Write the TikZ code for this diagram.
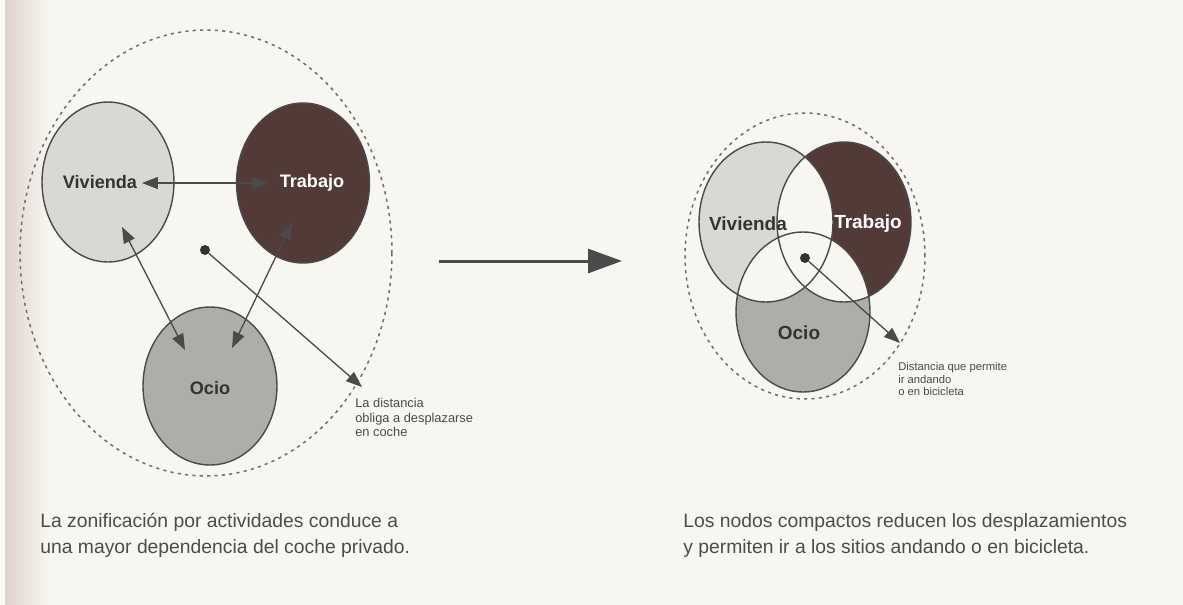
\documentclass[tikz,border=0pt]{standalone}
\usepackage{fontspec}
\setmainfont{Liberation Sans}
\usepackage{xcolor}
\usepackage{tikz}
\usetikzlibrary{shapes.geometric}
\usetikzlibrary{arrows.meta}
\usetikzlibrary{positioning}

\definecolor{paper}{HTML}{F8F6F1}
\definecolor{shadow}{HTML}{DDD4CC}
\definecolor{vivfill}{HTML}{D8D8D5}
\definecolor{trabfill}{HTML}{523B37}
\definecolor{ociofill}{HTML}{AEADAA}
\definecolor{inkgrey}{HTML}{4A4A4A}
\definecolor{dashgrey}{HTML}{6E6E6E}

\begin{document}
\begin{tikzpicture}[
  x=0.02cm, y=-0.02cm,
  >={Triangle[length=0.32cm,width=0.24cm]},
  line join=round
]
\tikzset{
    bubble/.style = {ellipse, draw=inkgrey, line width=0.8pt, inner sep=0pt,
                     minimum width=2.64cm, minimum height=3.2cm},
    tagL/.style = {font=\fontsize{10.3}{12}\selectfont\bfseries, text=black!80},
    tagR/.style = {font=\fontsize{10.8}{12}\selectfont\bfseries, text=black!80},
    link/.style = {draw=inkgrey, line width=0.75pt},
    hub/.style = {circle, fill=black!80, inner sep=0pt, minimum size=0.2cm},
    zone/.style = {draw=dashgrey, line width=0.85pt, dash pattern=on 1.8pt off 2.4pt},
    note/.style = {align=left, inner sep=0pt, text=inkgrey},
    caption/.style = {align=left, inner sep=0pt, text=black!70,
                      font=\fontsize{11}{14.7}\selectfont}
}
% paper and the book gutter
\fill[paper] (0,0) rectangle (1183,605);
\fill[white!40!paper] (0,0) rectangle (5,605);
\shade[left color=shadow, right color=paper] (5,0) rectangle (48,605);

% zonificacion
\draw[zone] (206,253) ellipse [x radius=3.72cm, y radius=4.46cm];
\node[bubble, fill=vivfill, label={[tagL, xshift=-0.16cm]center:Vivienda}] (viv) at (108,182) {};
\node[bubble, fill=trabfill, minimum width=2.66cm,
      label={[tagL, text=white, xshift=0.18cm]center:Trabajo}] (trab) at (303,183) {};
\node[bubble, fill=ociofill, minimum width=2.68cm, minimum height=3.16cm,
      label={[tagL, yshift=-0.04cm]center:Ocio}] (ocio) at (210,386) {};
\draw[link,<->] ([shift={(34,1)}]viv.center) -- ([shift={(-35,0)}]trab.center);
\draw[link,<->] ([shift={(14,45)}]viv.center) -- ([shift={(-25,-36)}]ocio.center);
\draw[link,<->] ([shift={(-11,40)}]trab.center) -- ([shift={(22,-38)}]ocio.center);
\node[hub] (hubL) at (205,250) {};
\coordinate (reachL) at (362,387);
\draw[link,->] (hubL) -- (reachL);
\node[note, anchor=north west, font=\fontsize{7.3}{8.2}\selectfont] (noteL) at (355,398)
  {La distancia\\obliga a desplazarse\\en coche};

% paso de un modelo a otro
\coordinate (flowA) at (439,261);
\coordinate (flowB) at (622,261);
\draw[inkgrey, line width=0.06cm, -{Triangle[length=0.68cm,width=0.48cm]}] (flowA) -- (flowB);

% nodos compactos
\coordinate (vivR) at (766,222);
\coordinate (trabR) at (844,222);
\coordinate (ocioR) at (803,312);
\draw[zone] (805,256) ellipse [x radius=2.4cm, y radius=2.86cm];
\fill[vivfill] (vivR) ellipse [x radius=1.34cm, y radius=1.6cm];
\fill[trabfill] (trabR) ellipse [x radius=1.34cm, y radius=1.6cm];
\fill[ociofill] (ocioR) ellipse [x radius=1.34cm, y radius=1.6cm];
\begin{scope}
  \clip (vivR) ellipse [x radius=1.34cm, y radius=1.6cm];
  \fill[paper] (trabR) ellipse [x radius=1.34cm, y radius=1.6cm];
  \fill[paper] (ocioR) ellipse [x radius=1.34cm, y radius=1.6cm];
\end{scope}
\begin{scope}
  \clip (trabR) ellipse [x radius=1.34cm, y radius=1.6cm];
  \fill[paper] (ocioR) ellipse [x radius=1.34cm, y radius=1.6cm];
\end{scope}
\foreach \c in {vivR,trabR,ocioR}
  \draw[inkgrey, line width=0.8pt] (\c) ellipse [x radius=1.34cm, y radius=1.6cm];
\node[tagR] (vivRtxt) at (748,224) {Vivienda};
\node[tagR, text=white] (trabRtxt) at (868,224) {Trabajo};
\node[tagR] (ocioRtxt) at (799,333) {Ocio};
\node[hub] (hubR) at (805,258) {};
\coordinate (reachR) at (900,343);
\draw[link,->] (hubR) -- (reachR);
\node[note, anchor=north west, font=\fontsize{6.4}{7.2}\selectfont] (noteR) at (898,362)
  {Distancia que permite\\ir andando\\o en bicicleta};

% pies de figura
\node[caption, anchor=north west] (capL) at (40,513)
  {La zonificación por actividades conduce a\\una mayor dependencia del coche privado.};
\node[caption, anchor=north west] (capR) at (683,513)
  {Los nodos compactos reducen los desplazamientos\\y permiten ir a los sitios andando o en bicicleta.};
\end{tikzpicture}
\end{document}
